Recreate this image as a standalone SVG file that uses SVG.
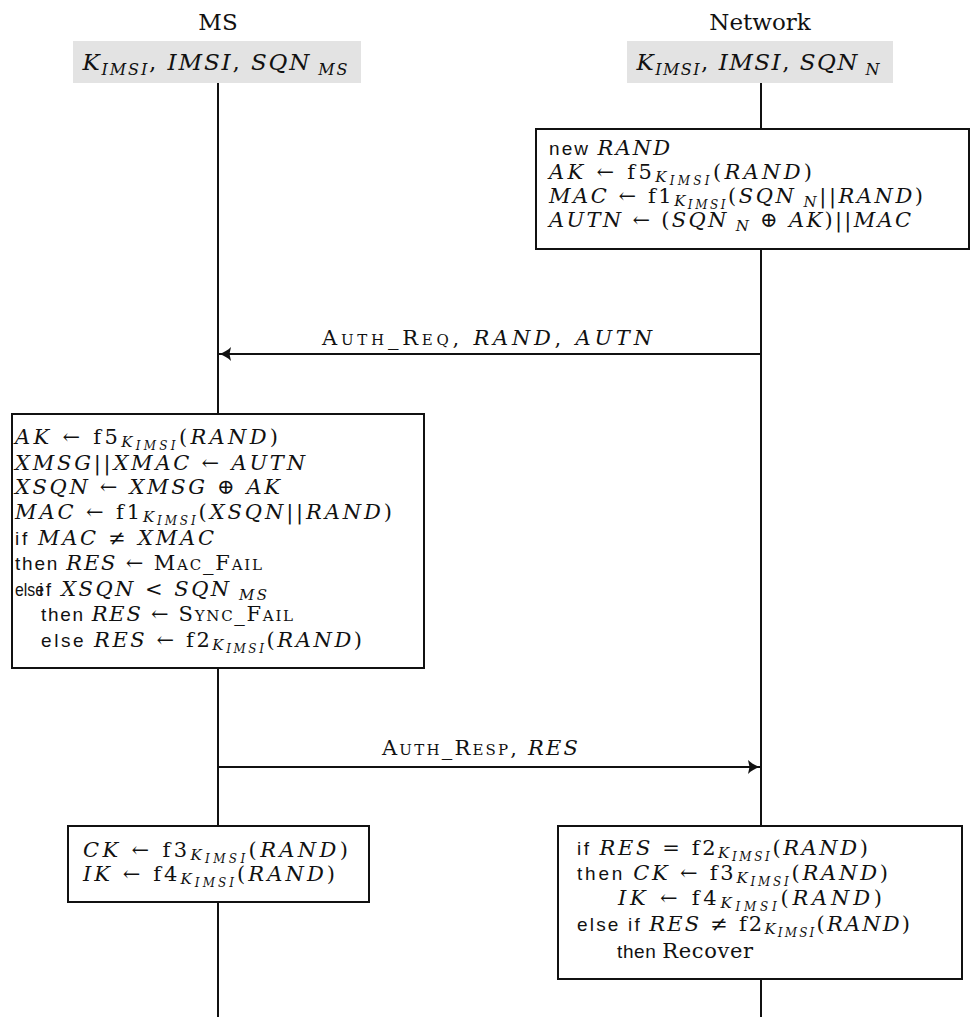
<svg xmlns="http://www.w3.org/2000/svg" width="974" height="1017" viewBox="0 0 974 1017">
<style>
text { font-family: "DejaVu Serif", serif; font-size: 21px; fill: #111; }
.i { font-style: italic; }
.s { font-family: "Liberation Sans", sans-serif; font-style: normal; font-size: 19px; }
.sc { font-variant: small-caps; }
.sub { font-style: italic; font-size: 15px; }
.ss { font-style: italic; font-size: 12px; }
.title { font-size: 23px; }
.head { font-size: 23px; }
.hsub { font-style: italic; font-size: 16px; }
.hdr { fill: #e3e3e3; stroke: none; }
.box { fill: #fff; stroke: #111; stroke-width: 2; }
.life { stroke: #111; stroke-width: 2; }
.msg { stroke: #111; stroke-width: 2; fill: none; }
</style>
<defs>
<marker id="ah" markerUnits="userSpaceOnUse" markerWidth="20" markerHeight="16" refX="14" refY="8" orient="auto">
<path d="M14,8 C9,6.5 5,4 2,1 L3.5,8 L2,15 C5,12 9,9.5 14,8 Z" fill="#111"/>
</marker>
</defs>
<rect width="974" height="1017" fill="#fff"/>
<g id="lifelines">
<line class="life" x1="218" y1="83" x2="218" y2="1017"/>
<line class="life" x1="761" y1="83" x2="761" y2="1017"/>
</g>
<g id="ms-header">
<text class="title" x="218" y="30" text-anchor="middle">MS</text>
<rect class="hdr" x="73" y="41" width="288" height="42"/>
<text class="head" x="215" y="70" text-anchor="middle" textLength="265" lengthAdjust="spacing"><tspan class="i">K</tspan><tspan class="hsub" dy="5">IMSI</tspan><tspan dy="-5">, </tspan><tspan class="i">IMSI</tspan>, <tspan class="i">SQN</tspan><tspan class="hsub" dy="5"> MS</tspan></text>
</g>
<g id="net-header">
<text class="title" x="760" y="30" text-anchor="middle">Network</text>
<rect class="hdr" x="627" y="41" width="266" height="42"/>
<text class="head" x="758" y="70" text-anchor="middle" textLength="243" lengthAdjust="spacing"><tspan class="i">K</tspan><tspan class="hsub" dy="5">IMSI</tspan><tspan dy="-5">, </tspan><tspan class="i">IMSI</tspan>, <tspan class="i">SQN</tspan><tspan class="hsub" dy="5"> N</tspan></text>
</g>
<g id="net-gen">
<rect class="box" x="536" y="129" width="433" height="120"/>
<text x="549" y="155" textLength="121" lengthAdjust="spacing"><tspan class="s">new </tspan><tspan class="i">RAND</tspan></text>
<text x="549" y="179" textLength="263" lengthAdjust="spacing"><tspan class="i">AK</tspan> ← f5<tspan class="sub" dy="3">K</tspan><tspan class="ss" dy="3">IMSI</tspan><tspan dy="-6">(</tspan><tspan class="i">RAND</tspan>)</text>
<text x="549" y="203" textLength="374" lengthAdjust="spacing"><tspan class="i">MAC</tspan> ← f1<tspan class="sub" dy="3">K</tspan><tspan class="ss" dy="3">IMSI</tspan><tspan dy="-6">(</tspan><tspan class="i">SQN</tspan><tspan class="sub" dy="4"> N</tspan><tspan dy="-4">||</tspan><tspan class="i">RAND</tspan>)</text>
<text x="549" y="227" textLength="362" lengthAdjust="spacing"><tspan class="i">AUTN</tspan> ← (<tspan class="i">SQN</tspan><tspan class="sub" dy="4"> N</tspan><tspan dy="-4"> ⊕ </tspan><tspan class="i">AK</tspan>)||<tspan class="i">MAC</tspan></text>
</g>
<g id="ms-check">
<rect class="box" x="12" y="414" width="412" height="254"/>
<text x="15" y="444" textLength="263" lengthAdjust="spacing"><tspan class="i">AK</tspan> ← f5<tspan class="sub" dy="3">K</tspan><tspan class="ss" dy="3">IMSI</tspan><tspan dy="-6">(</tspan><tspan class="i">RAND</tspan>)</text>
<text x="15" y="470" textLength="290" lengthAdjust="spacing"><tspan class="i">XMSG</tspan>||<tspan class="i">XMAC</tspan> ← <tspan class="i">AUTN</tspan></text>
<text x="15" y="494" textLength="265" lengthAdjust="spacing"><tspan class="i">XSQN</tspan> ← <tspan class="i">XMSG</tspan> ⊕ <tspan class="i">AK</tspan></text>
<text x="15" y="519" textLength="377" lengthAdjust="spacing"><tspan class="i">MAC</tspan> ← f1<tspan class="sub" dy="3">K</tspan><tspan class="ss" dy="3">IMSI</tspan><tspan dy="-6">(</tspan><tspan class="i">XSQN</tspan>||<tspan class="i">RAND</tspan>)</text>
<text x="15" y="545" textLength="199" lengthAdjust="spacing"><tspan class="s">if </tspan><tspan class="i">MAC</tspan> ≠ <tspan class="i">XMAC</tspan></text>
<text x="15" y="570" textLength="247" lengthAdjust="spacing"><tspan class="s">then </tspan><tspan class="i">RES</tspan> ← <tspan class="sc">Mac_Fail</tspan></text>
<text class="s" x="15" y="596" textLength="29" lengthAdjust="spacingAndGlyphs">else</text>
<text x="39" y="596" textLength="228" lengthAdjust="spacing"><tspan class="s">if </tspan><tspan class="i">XSQN</tspan> &lt; <tspan class="i">SQN</tspan><tspan class="sub" dy="4"> MS</tspan></text>
<text x="41" y="621" textLength="252" lengthAdjust="spacing"><tspan class="s">then </tspan><tspan class="i">RES</tspan> ← <tspan class="sc">Sync_Fail</tspan></text>
<text x="41" y="647" textLength="321" lengthAdjust="spacing"><tspan class="s">else </tspan><tspan class="i">RES</tspan> ← f2<tspan class="sub" dy="3">K</tspan><tspan class="ss" dy="3">IMSI</tspan><tspan dy="-6">(</tspan><tspan class="i">RAND</tspan>)</text>
</g>
<g id="ms-keys">
<rect class="box" x="68" y="826" width="301" height="76"/>
<text x="83" y="857" textLength="265" lengthAdjust="spacing"><tspan class="i">CK</tspan> ← f3<tspan class="sub" dy="3">K</tspan><tspan class="ss" dy="3">IMSI</tspan><tspan dy="-6">(</tspan><tspan class="i">RAND</tspan>)</text>
<text x="83" y="881" textLength="252" lengthAdjust="spacing"><tspan class="i">IK</tspan> ← f4<tspan class="sub" dy="3">K</tspan><tspan class="ss" dy="3">IMSI</tspan><tspan dy="-6">(</tspan><tspan class="i">RAND</tspan>)</text>
</g>
<g id="net-verify">
<rect class="box" x="558" y="826" width="404" height="153"/>
<text x="577" y="855" textLength="291" lengthAdjust="spacing"><tspan class="s">if </tspan><tspan class="i">RES</tspan> = f2<tspan class="sub" dy="3">K</tspan><tspan class="ss" dy="3">IMSI</tspan><tspan dy="-6">(</tspan><tspan class="i">RAND</tspan>)</text>
<text x="577" y="880" textLength="311" lengthAdjust="spacing"><tspan class="s">then </tspan><tspan class="i">CK</tspan> ← f3<tspan class="sub" dy="3">K</tspan><tspan class="ss" dy="3">IMSI</tspan><tspan dy="-6">(</tspan><tspan class="i">RAND</tspan>)</text>
<text x="618" y="905" textLength="264" lengthAdjust="spacing"><tspan class="i">IK</tspan> ← f4<tspan class="sub" dy="3">K</tspan><tspan class="ss" dy="3">IMSI</tspan><tspan dy="-6">(</tspan><tspan class="i">RAND</tspan>)</text>
<text x="577" y="931" textLength="333" lengthAdjust="spacing"><tspan class="s">else if </tspan><tspan class="i">RES</tspan> ≠ f2<tspan class="sub" dy="3">K</tspan><tspan class="ss" dy="3">IMSI</tspan><tspan dy="-6">(</tspan><tspan class="i">RAND</tspan>)</text>
<text x="617" y="958" textLength="136" lengthAdjust="spacing"><tspan class="s">then </tspan>Recover</text>
</g>
<g id="connectors">
<line class="msg" x1="761" y1="354" x2="219" y2="354" marker-end="url(#ah)"/>
<text x="487" y="345" text-anchor="middle" textLength="330" lengthAdjust="spacing"><tspan class="sc">Auth_Req</tspan>, <tspan class="i">RAND</tspan>,  <tspan class="i">AUTN</tspan></text>
<line class="msg" x1="218" y1="767" x2="760" y2="767" marker-end="url(#ah)"/>
<text x="480" y="755" text-anchor="middle" textLength="196" lengthAdjust="spacing"><tspan class="sc">Auth_Resp</tspan>, <tspan class="i">RES</tspan></text>
</g>
</svg>
